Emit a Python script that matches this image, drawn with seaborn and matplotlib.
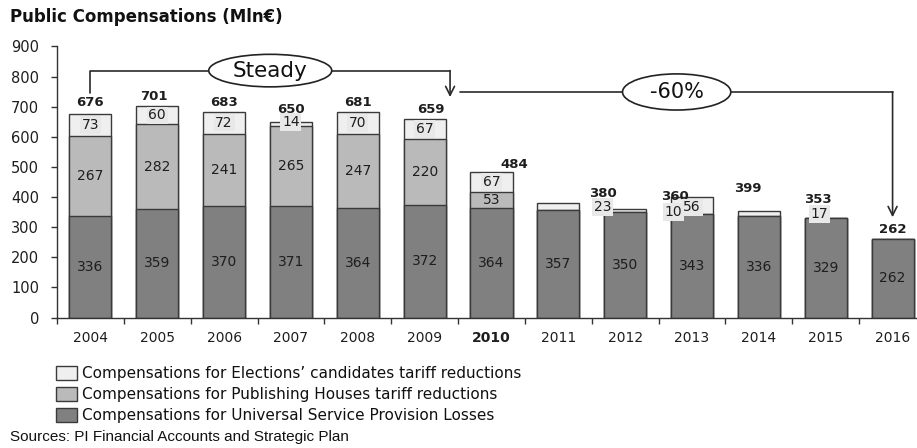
import matplotlib
matplotlib.use("Agg")
import matplotlib.pyplot as plt
from matplotlib.patches import Ellipse, Patch
import numpy as np
import pandas as pd
import seaborn as sns

# ---- data (Mln€) ----
years = ["2004", "2005", "2006", "2007", "2008", "2009", "2010",
         "2011", "2012", "2013", "2014", "2015", "2016"]
universal = [336, 359, 370, 371, 364, 372, 364, 357, 350, 343, 336, 329, 262]
publishing = [267, 282, 241, 265, 247, 220, 53, 0, 0, 0, 0, 0, 0]
elections = [73, 60, 72, 14, 70, 67, 67, 23, 10, 56, 17, 0, 0]

series_names = [
    "Compensations for Elections’ candidates tariff reductions",
    "Compensations for Publishing Houses tariff reductions",
    "Compensations for Universal Service Provision Losses",
]

# ---- label placement (category / value offsets) ----
el_dx = [0, 0, 0, 0, 0, 0, 0, 0.66, 0.72, 0, 0.9, 0, 0]
el_dy = [0, 0, 0, 6, 0, 0, 0, -2, -5, -5, -1, 0, 0]
total_dx = [0, -0.05, 0, 0, 0, 0.1, 0.34, 0.66, 0.75, 0.84, 0.88, None, 0]
total_dy = [39, 34, 32, 42, 34, 33, 25, 33, 43, 31, 40, 0, 31]

sns.set_theme(style="white")
plt.rcParams["font.family"] = ["DejaVu Sans"]

df = pd.DataFrame({"year": years, "universal": universal,
                   "publishing": publishing, "elections": elections})
df["mid_top"] = df["universal"] + df["publishing"]
df["total"] = df["mid_top"] + df["elections"]

c_light, c_mid, c_dark = "#efefef", "#bababa", "#808080"
edge = "#3a3a3a"
ink = "#1e1e1e"

fig = plt.figure(figsize=(9.17, 4.48), dpi=100)
ax = fig.add_axes([57 / 917, 130.5 / 448, 869 / 917, 271 / 448])

# stacked bars: cumulative heights drawn from tallest to shortest
for col, color in [("total", c_light), ("mid_top", c_mid), ("universal", c_dark)]:
    sns.barplot(data=df, x="year", y=col, order=years, color=color,
                saturation=1, width=0.63, edgecolor=edge, linewidth=1.0,
                ax=ax, zorder=2)

ax.set_xlim(-0.5, 12.5)
ax.set_ylim(0, 900)
ax.set_yticks(np.arange(0, 901, 100))
ax.set_xlabel("")
ax.set_ylabel("")
for s in ["top", "right"]:
    ax.spines[s].set_visible(False)
for s in ["left", "bottom"]:
    ax.spines[s].set_color("#333333")
    ax.spines[s].set_linewidth(1.0)

ax.tick_params(axis="y", direction="out", length=4, width=1, color="#333333",
               pad=9, labelsize=10.5, labelcolor=ink, left=True)
ax.set_xticks(range(len(years)))
ax.set_xticklabels(years)
ax.set_xticks(np.arange(-0.5, len(years), 1), minor=True)
ax.tick_params(axis="x", which="major", length=0, pad=10, labelsize=10,
               labelcolor=ink)
ax.tick_params(axis="x", which="minor", direction="out", length=4, width=1,
               color="#333333", bottom=True)
for lbl in ax.get_xticklabels():
    if lbl.get_text() == "2010":
        lbl.set_fontweight("bold")

# segment labels
for i in range(len(years)):
    ax.text(i, universal[i] / 2, str(universal[i]), ha="center", va="center",
            fontsize=10, color=ink, zorder=4)
    if publishing[i] > 0:
        ax.text(i, universal[i] + publishing[i] / 2, str(publishing[i]),
                ha="center", va="center", fontsize=10, color=ink, zorder=4)
    if elections[i] > 0:
        ax.text(i + el_dx[i], df["mid_top"][i] + elections[i] / 2 + el_dy[i],
                str(elections[i]), ha="center", va="center", fontsize=10,
                color=ink, zorder=4,
                bbox=dict(boxstyle="square,pad=0.12", fc="#e8e8e8", ec="none"))
    if total_dx[i] is not None:
        ax.text(i + total_dx[i], df["total"][i] + total_dy[i], str(df["total"][i]),
                ha="center", va="center", fontsize=9.5, fontweight="bold",
                color=ink, zorder=4)

# "Steady" bracket 2004 -> 2009
line_kw = dict(color="#2a2a2a", lw=1.2, clip_on=False, zorder=3)
arrow_kw = dict(arrowstyle="->", color="#2a2a2a", lw=1.2, mutation_scale=16,
                shrinkA=0, shrinkB=0)
x_a, x_b = 0, 5.38
y_s = 820
ax.plot([x_a, x_a, x_b], [745, y_s, y_s], **line_kw)
ax.annotate("", xy=(x_b, 732), xytext=(x_b, y_s), arrowprops=arrow_kw,
            annotation_clip=False)
ax.add_patch(Ellipse((2.69, y_s), 1.84, 108, fc="white", ec="#222222",
                     lw=1.2, zorder=5, clip_on=False))
ax.text(2.69, y_s, "Steady", ha="center", va="center", fontsize=15.5,
        color="#111111", zorder=6)

# "-60%" bracket 2009 -> 2016
y_d = 749
x_c, x_d = 5.53, 12.0
ax.plot([x_c, x_d], [y_d, y_d], **line_kw)
ax.annotate("", xy=(x_d, 333), xytext=(x_d, y_d), arrowprops=arrow_kw,
            annotation_clip=False)
ax.add_patch(Ellipse((8.77, y_d), 1.62, 120, fc="white", ec="#222222",
                     lw=1.2, zorder=5, clip_on=False))
ax.text(8.77, y_d, "-60%", ha="center", va="center", fontsize=15,
        color="#111111", zorder=6)

# title, legend, source
fig.text(10 / 917, 1 - 17 / 448, "Public Compensations (Mln€)", ha="left",
         va="center", fontsize=12, fontweight="bold", color="#111111")

handles = [Patch(fc=c, ec=edge, lw=1.0) for c in (c_light, c_mid, c_dark)]
fig.legend(handles, series_names, loc="upper left",
           bbox_to_anchor=(56 / 917, 1 - 366 / 448), frameon=False,
           fontsize=11, handlelength=1.35, handleheight=1.0, handletextpad=0.35,
           labelspacing=0.4, borderpad=0, borderaxespad=0,
           labelcolor="#111111")

fig.text(10 / 917, 1 - 437 / 448,
         "Sources: PI Financial Accounts and Strategic Plan", ha="left",
         va="center", fontsize=11, family=["Liberation Sans", "DejaVu Sans"],
         color="#111111")

fig.savefig("out.png", dpi=100)
